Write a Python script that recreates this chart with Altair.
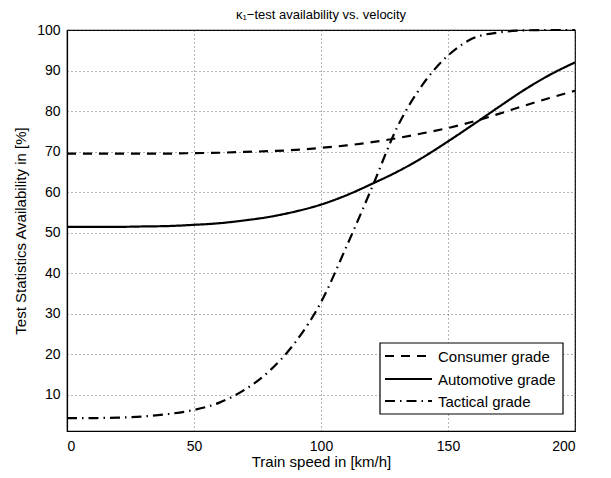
import altair as alt
import pandas as pd

speed = [0, 10, 20, 30, 40, 50, 60, 70, 80, 90, 100, 110, 120, 130, 140, 150, 160, 170, 180, 190, 200]
consumer = [69.5, 69.5, 69.5, 69.5, 69.5, 69.6, 69.7, 69.9, 70.1, 70.4, 70.9, 71.5, 72.3, 73.3, 74.5, 75.8, 77.4, 79.3, 81.3, 83.2, 85.0]
automotive = [51.4, 51.4, 51.4, 51.5, 51.6, 51.9, 52.3, 53.0, 53.9, 55.2, 56.9, 59.2, 62.0, 65.0, 68.5, 72.5, 76.7, 81.0, 85.2, 88.9, 92.0]
tactical = [4.2, 4.2, 4.3, 4.6, 5.2, 6.2, 8.0, 11.2, 16.0, 23.0, 32.8, 46.5, 61.0, 76.0, 86.5, 93.7, 98.0, 99.4, 99.9, 100.0, 100.0]
series = ["Consumer grade", "Automotive grade", "Tactical grade"]
dashes = [[9, 7], [1, 0], [10, 5, 1.5, 5]]

rows = []
for name, vals in zip(series, [consumer, automotive, tactical]):
    for s, v in zip(speed, vals):
        rows.append({"speed": s, "avail": v, "grade": name})
df = pd.DataFrame(rows)

FONT = "Liberation Sans"
LW = 2.2

lines = alt.Chart(df).mark_line(strokeWidth=LW, color="black", interpolate="monotone").encode(
    x=alt.X("speed:Q", title="Train speed in [km/h]",
            scale=alt.Scale(domain=[0, 200], nice=False),
            axis=alt.Axis(values=[0, 50, 100, 150, 200], labelPadding=8, titlePadding=1)),
    y=alt.Y("avail:Q", title="Test Statistics Availability in [%]",
            scale=alt.Scale(domain=[1, 100], nice=False, zero=False),
            axis=alt.Axis(values=[10, 20, 30, 40, 50, 60, 70, 80, 90, 100], labelPadding=7, titlePadding=8)),
    strokeDash=alt.StrokeDash("grade:N", sort=series,
                              scale=alt.Scale(domain=series, range=dashes),
                              legend=None),
    detail="grade:N",
)

# legend (drawn as a framed box inside the plot, lower right)
box = alt.Chart(pd.DataFrame({"k": [0]})).mark_rect(
    fill="white", stroke="black", strokeWidth=1.2
).encode(x=alt.value(313), x2=alt.value(496), y=alt.value(313), y2=alt.value(384))

legend_layers = [box]
row_y = [326, 349, 371]
for name, dash, ry in zip(series, dashes, row_y):
    ld = pd.DataFrame({"label": [name]})
    legend_layers.append(
        alt.Chart(ld).mark_rule(strokeWidth=LW, color="black", strokeDash=dash).encode(
            x=alt.value(318), x2=alt.value(365), y=alt.value(ry))
    )
    legend_layers.append(
        alt.Chart(ld).mark_text(align="left", baseline="middle", font=FONT, fontSize=15,
                                color="black").encode(
            x=alt.value(371), y=alt.value(ry + 0.5), text="label:N")
    )

chart = alt.layer(lines, *legend_layers).properties(
    width=508, height=401,
    title=alt.Title("κ₁−test availability vs. velocity", fontSize=13, fontWeight="normal",
                    font=FONT, color="black", offset=1),
    padding={"left": 59, "top": 22, "right": 28, "bottom": 39},
    autosize=alt.AutoSizeParams(type="none"),
).configure_view(
    stroke="black", strokeWidth=1.2
).configure_axis(
    domainColor="black", domainWidth=1.2,
    gridColor="#444444", gridDash=[1, 3], gridWidth=0.8,
    ticks=False,
    labelFont=FONT, labelFontSize=14, labelColor="black",
    titleFont=FONT, titleFontSize=15, titleColor="black", titleFontWeight="normal",
)

chart.save("out.html", embed_options={"renderer": "svg", "actions": False})
